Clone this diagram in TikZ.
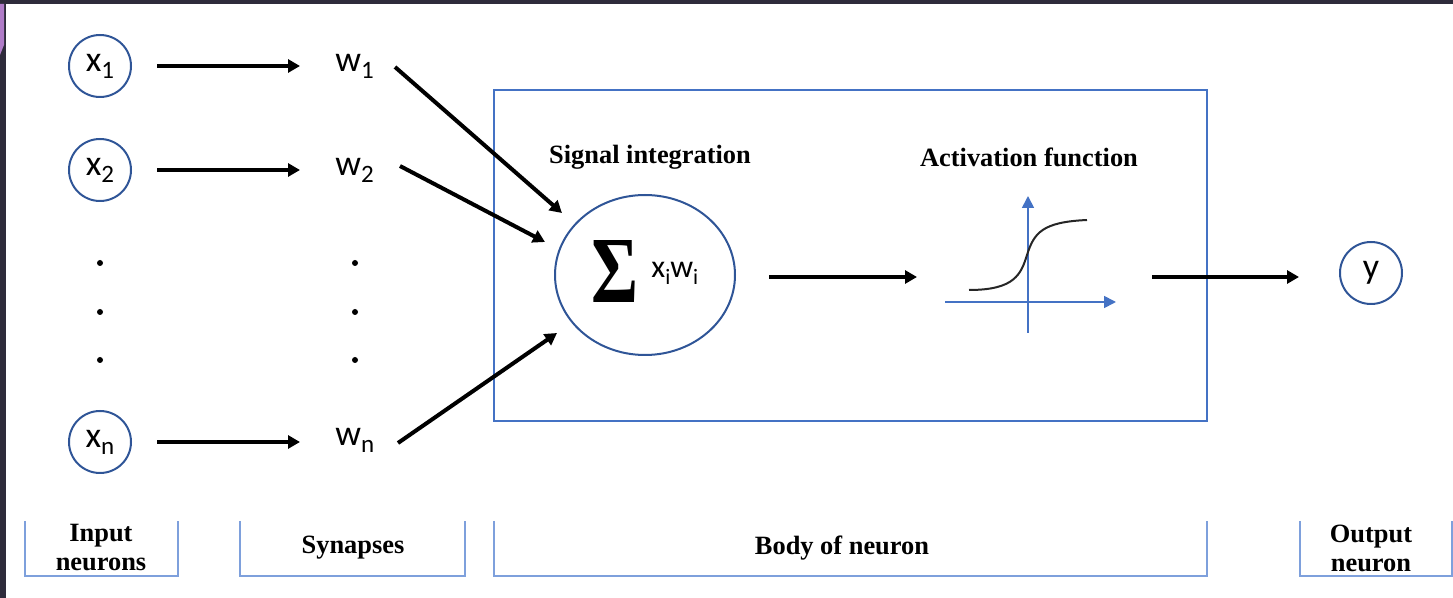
\documentclass[tikz,border=0pt]{standalone}
\usepackage{fontspec}
\usepackage{graphicx}
\setmainfont{Liberation Serif}
\newfontfamily\calib{Carlito}
\usetikzlibrary{arrows.meta,calc,shapes.geometric}

\definecolor{ringblue}{HTML}{2F5597}
\definecolor{boxblue}{HTML}{4472C4}
\definecolor{brkblue}{HTML}{7EA0DC}
\definecolor{framedark}{HTML}{2E2B3B}
\definecolor{framepurple}{HTML}{B07CC8}

% lowered index in the sans labels
\newcommand\lowidx[2][12.5]{\raisebox{-3.5pt}{\fontsize{#1}{#1}\selectfont #2}}

\begin{document}
\begin{tikzpicture}[x=0.5pt,y=-0.5pt,
  neuron/.style={circle,draw=ringblue,line width=1pt,minimum size=31pt,inner sep=0pt,
                 font=\calib\fontsize{18}{20}\selectfont},
  weight/.style={anchor=west,inner sep=0pt,font=\calib\fontsize{18}{20}\selectfont},
  sig/.style={-{Triangle[length=6pt,width=6.5pt]},line width=2pt},
  axisarr/.style={-{Triangle[length=6pt,width=6pt]},draw=boxblue,line width=0.85pt},
  caption/.style={font=\bfseries\fontsize{13.2}{14.5}\selectfont,align=center,inner sep=0pt},
  bracket/.style={draw=brkblue,line width=0.8pt},
  dotmark/.style={circle,fill=black,inner sep=0pt,minimum size=3pt}]

\useasboundingbox (0,0) rectangle (1453,598);

% window frame
\fill[framedark] (0,0) rectangle (1453,4);
\fill[framedark] (0,0) rectangle (6,598);
\fill[framepurple] (0,4) -- (4,4) -- (4,45) -- (0,55) -- cycle;

% input neurons
\node[neuron] (x1) at (100,66) {x\lowidx{1}};
\node[neuron] (x2) at (100,170) {x\lowidx{2}};
\node[neuron] (xn) at (100,442) {x\lowidx{n}};
\node[dotmark] (xd1) at (100,263) {};
\node[dotmark] (xd2) at (100,312) {};
\node[dotmark] (xd3) at (100,360) {};

% synaptic weights
\node[weight] (w1) at (335,66) {w\lowidx{1}};
\node[weight] (w2) at (335,170) {w\lowidx{2}};
\node[weight] (wn) at (335,440) {w\lowidx{n}};
\node[dotmark] (wd1) at (355,263) {};
\node[dotmark] (wd2) at (355,312) {};
\node[dotmark] (wd3) at (355,360) {};

\draw[sig] ($(x1.east)+(25,0)$) -- ($(x1.east -| w1.west)+(-35,0)$);
\draw[sig] ($(x2.east)+(25,0)$) -- ($(x2.east -| w2.west)+(-35,0)$);
\draw[sig] ($(xn.east)+(25,0)$) -- ($(xn.east -| wn.west)+(-35,0)$);

% body of the neuron
\draw[boxblue,line width=0.75pt] (494,90) rectangle (1207,421);
\node[caption] (sigtitle) at (650,157) {Signal integration};
\node[caption] (acttitle) at (1029,157) {Activation function};

\node[ellipse,draw=ringblue,line width=1pt,minimum width=90pt,minimum height=80pt] (sum) at (645,275) {};
\node[inner sep=0pt] (sigma) at (615,271) {\resizebox{23.5pt}{31pt}{\bfseries Σ}};
\node[inner sep=0pt,anchor=west,font=\calib\fontsize{16}{18}\selectfont] (xw) at (651,273)
  {x\lowidx[11]{i}w\lowidx[11]{i}};

\draw[sig] ($(w1.west)+(60,1)$) -- ($(sum.center)+(-83,-62)$);
\draw[sig] ($(w2.west)+(65,-4)$) -- ($(sum.center)+(-100,-33)$);
\draw[sig] ($(wn.west)+(63,3)$) -- ($(sum.center)+(-88,58)$);

% activation curve
\coordinate (actin) at (917,277);
\coordinate (actout) at (1152,277);
\draw[axisarr] (1028,333) -- (1028,196);
\draw[axisarr] (945,302) -- (1116,302);
\draw[line width=1pt,black!85] (969,290) .. controls (1015,290) and (1021,274) .. (1027,255)
   .. controls (1034,233) and (1042,222) .. (1087,220);

\draw[sig] ($(sum.east |- actin)+(33,0)$) -- (actin);

% output neuron
\node[neuron] (y) at (1371,273) {y};
\draw[sig] (actout) -- ($(actout -| y.west)+(-40,0)$);

% group brackets
\draw[bracket] (25,521) |- (178,576) -- (178,521);
\draw[bracket] (240,521) |- (465,576) -- (465,521);
\draw[bracket] (494,521) |- (1207,576) -- (1207,521);
\draw[bracket] (1300,521) |- (1452,576) -- (1452,521);

\node[caption] (capin) at (101,548) {Input\\neurons};
\node[caption] (capsyn) at (353,548) {Synapses};
\node[caption] (capbody) at (842,548) {Body of neuron};
\node[caption] (capout) at (1371,548) {Output\\neuron};
\end{tikzpicture}
\end{document}
